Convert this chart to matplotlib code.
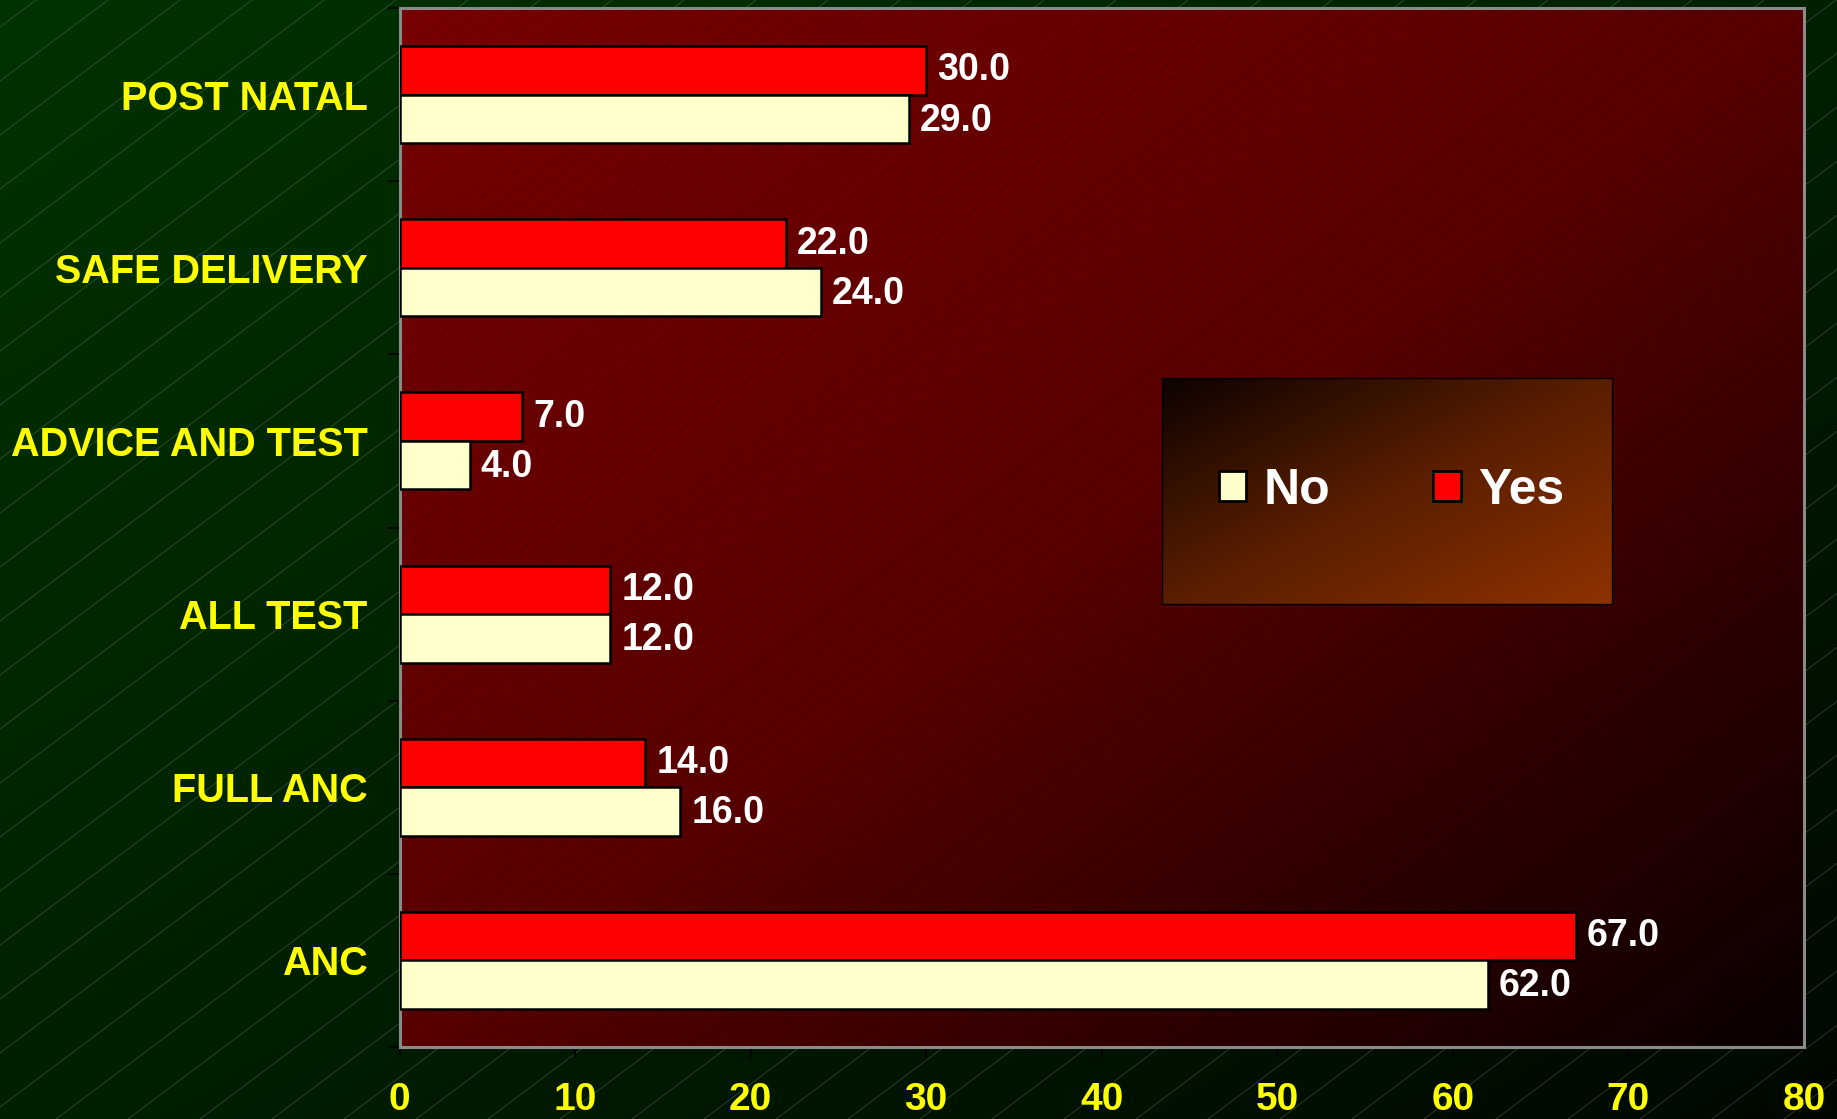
import numpy as np
import matplotlib.pyplot as plt
from matplotlib.colors import LinearSegmentedColormap
from matplotlib.patches import Patch

# data (bottom to top, as drawn)
categories = ["ANC", "FULL ANC", "ALL TEST", "ADVICE AND TEST", "SAFE DELIVERY", "POST NATAL"]
yes_values = [67.0, 14.0, 12.0, 7.0, 22.0, 30.0]
no_values = [62.0, 16.0, 12.0, 4.0, 24.0, 29.0]
x_ticks = [0, 10, 20, 30, 40, 50, 60, 70, 80]

plt.rcParams['font.family'] = ['Liberation Sans', 'DejaVu Sans']
plt.rcParams['font.weight'] = 'bold'

W, H = 1837, 1119
fig = plt.figure(figsize=(W / 100, H / 100), dpi=100)
fig.patch.set_facecolor('#002800')


def diagonal(colors, n=300):
    # t = 0 at top-left, 1 at bottom-right
    xx, yy = np.meshgrid(np.linspace(0, 1, n), np.linspace(0, 1, n))
    return (xx + yy) / 2, LinearSegmentedColormap.from_list('grad', colors)


# green slide background with thin diagonal lines
bg = fig.add_axes([0, 0, 1, 1], zorder=-2)
t, cm = diagonal(['#003200', '#002000', '#000800'])
bg.imshow(t, cmap=cm, extent=[0, W, 0, H], aspect='auto', origin='upper', vmin=0, vmax=1)
for x0 in np.arange(-1600, W, 72):
    bg.plot([x0, x0 + 2000], [0, 1500], color='#8a9a8a', lw=0.5, alpha=0.4)
bg.set_xlim(0, W)
bg.set_ylim(0, H)
bg.axis('off')

# main plot
ax = fig.add_axes([399.5 / W, 1 - 1047 / H, (1804 - 399.5) / W, (1047 - 8) / H])
ax.patch.set_alpha(0)
ax.set_xlim(0, 80)
ax.set_ylim(-0.5, 5.5)
t, cm = diagonal(['#780000', '#580000', '#0a0000'])
ax.imshow(t, cmap=cm, extent=[0, 80, -0.5, 5.5], aspect='auto', vmin=0, vmax=1, zorder=0)
# faint stripes in the plot area
k = 0.75 * 1404.5 / 1039
for x0 in np.arange(-1.5, 1.0, 23 / 1404.5):
    ax.plot([x0, x0 + 2], [0, 2 * k], color='black', lw=0.8, alpha=0.12,
            transform=ax.transAxes, zorder=1)

y = np.arange(len(categories))
ax.barh(y + 0.14, yes_values, height=0.28, color='#ff0000', edgecolor='black', lw=1.8, zorder=3)
ax.barh(y - 0.14, no_values, height=0.28, color='#ffffcc', edgecolor='black', lw=1.8, zorder=3)

for yi, v in zip(y, yes_values):
    ax.annotate(f'{v:.1f}', (v, yi + 0.14), xytext=(8, 0), textcoords='offset points',
                va='center', ha='left', color='white', fontsize=27, fontweight='bold')
for yi, v in zip(y, no_values):
    ax.annotate(f'{v:.1f}', (v, yi - 0.15), xytext=(8, 0), textcoords='offset points',
                va='center', ha='left', color='white', fontsize=27, fontweight='bold')

ax.set_yticks(y)
ax.set_yticklabels(categories)
ax.set_yticks(np.arange(-0.5, 6, 1), minor=True)
ax.tick_params(axis='y', which='major', length=0, pad=23, labelsize=28.5, labelcolor='#ffff00')
ax.tick_params(axis='y', which='minor', length=8.5, width=1.2, color='black', direction='out')
ax.set_xticks(x_ticks)
ax.tick_params(axis='x', length=8, width=1.2, color='black', pad=17,
               labelsize=28, labelcolor='#ffff00')
for s in ax.spines.values():
    s.set_color('#8a8a8a')
    s.set_linewidth(2.2)

# legend box with its own gradient
lax = fig.add_axes([1162 / W, 1 - 604 / H, 450 / W, 226 / H], zorder=5)
t, cm = diagonal(['#0d0300', '#5a1e00', '#8e3200'])
lax.imshow(t, cmap=cm, extent=[0, 1, 0, 1], aspect='auto', vmin=0, vmax=1)
lax.set_xticks([])
lax.set_yticks([])
for s in lax.spines.values():
    s.set_color('black')
    s.set_linewidth(1)
handles = [Patch(fc='#ffffcc', ec='black', lw=2), Patch(fc='#ff0000', ec='black', lw=2)]
lax.legend(handles, ['No', 'Yes'], ncol=2, loc='center', frameon=False,
           prop={'size': 36, 'weight': 'bold'}, labelcolor='white',
           handlelength=0.55, handleheight=0.55, handletextpad=0.35, columnspacing=2.05,
           bbox_to_anchor=(0.51, 0.5))

fig.savefig('out.png', dpi=100, facecolor=fig.get_facecolor())
